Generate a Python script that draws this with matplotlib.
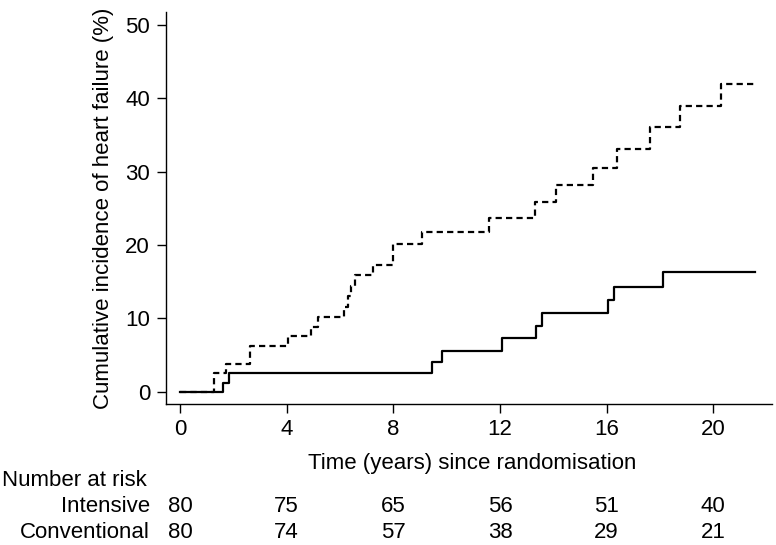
import matplotlib
matplotlib.use("Agg")
import matplotlib.pyplot as plt
import matplotlib.transforms as mtransforms

plt.rcParams['font.family'] = ['Liberation Sans', 'DejaVu Sans']
plt.rcParams['lines.scale_dashes'] = False

# Step data (time in years, cumulative incidence %)
intensive_t = [0, 1.62, 1.84, 9.45, 9.84, 12.09, 13.35, 13.57, 16.04, 16.26, 18.11, 21.55]
intensive_y = [0, 1.25, 2.5, 4.05, 5.6, 7.35, 9.0, 10.75, 12.55, 14.3, 16.3, 16.3]

conventional_t = [0, 1.28, 1.74, 2.61, 4.04, 4.91, 5.19, 6.16, 6.30, 6.43, 6.57, 7.22, 7.97,
                  9.08, 11.57, 13.30, 14.09, 15.49, 16.40, 17.63, 18.76, 20.27, 21.62]
conventional_y = [0, 2.5, 3.75, 6.25, 7.55, 8.85, 10.2, 11.6, 13.0, 14.4, 15.9, 17.3, 20.1,
                  21.7, 23.7, 25.9, 28.2, 30.55, 33.1, 36.07, 38.98, 41.98, 41.98]

risk_times = [0, 4, 8, 12, 16, 20]
risk_intensive = [80, 75, 65, 56, 51, 40]
risk_conventional = [80, 74, 57, 38, 29, 21]
y_ticks = [0, 10, 20, 30, 40, 50]

W, H = 776, 545
fig = plt.figure(figsize=(W / 100, H / 100), dpi=100)
ax = fig.add_axes([166 / W, 1 - 404 / H, (772 - 166) / W, (404 - 11.7) / H])

ax.step(intensive_t, intensive_y, where='post', color='black', lw=1.6)
ax.step(conventional_t, conventional_y, where='post', color='black', lw=1.6,
        dashes=(4.5, 3.0))

ax.set_xlim(-0.525, 22.2)
ax.set_ylim(-1.68, 51.8)
ax.set_xticks(risk_times)
ax.set_yticks(y_ticks)
for s in ['top', 'right']:
    ax.spines[s].set_visible(False)
for s in ['left', 'bottom']:
    ax.spines[s].set_linewidth(1.0)
ax.tick_params(axis='both', length=6.5, width=1.0, labelsize=16, color='black')
ax.tick_params(axis='y', pad=5)
ax.tick_params(axis='x', pad=4)

fs = 16
fig.text(472 / W, 1 - 463 / H, 'Time (years) since randomisation', ha='center', va='center', fontsize=fs)
fig.text(104 / W, 1 - 208 / H, 'Cumulative incidence of heart failure (%)', ha='center', va='center',
         rotation=90, fontsize=fs)

fig.text(2 / W, 1 - 480 / H, 'Number at risk', ha='left', va='center', fontsize=fs)
fig.text(150 / W, 1 - 506 / H, 'Intensive', ha='right', va='center', fontsize=fs)
fig.text(150 / W, 1 - 532.7 / H, 'Conventional', ha='right', va='center', fontsize=fs)

trans = mtransforms.blended_transform_factory(ax.transData, fig.transFigure)
for t, a, b in zip(risk_times, risk_intensive, risk_conventional):
    ax.text(t, 1 - 506 / H, str(a), transform=trans, ha='center', va='center', fontsize=fs, clip_on=False)
    ax.text(t, 1 - 532.7 / H, str(b), transform=trans, ha='center', va='center', fontsize=fs, clip_on=False)

fig.savefig('out.png', dpi=100)
